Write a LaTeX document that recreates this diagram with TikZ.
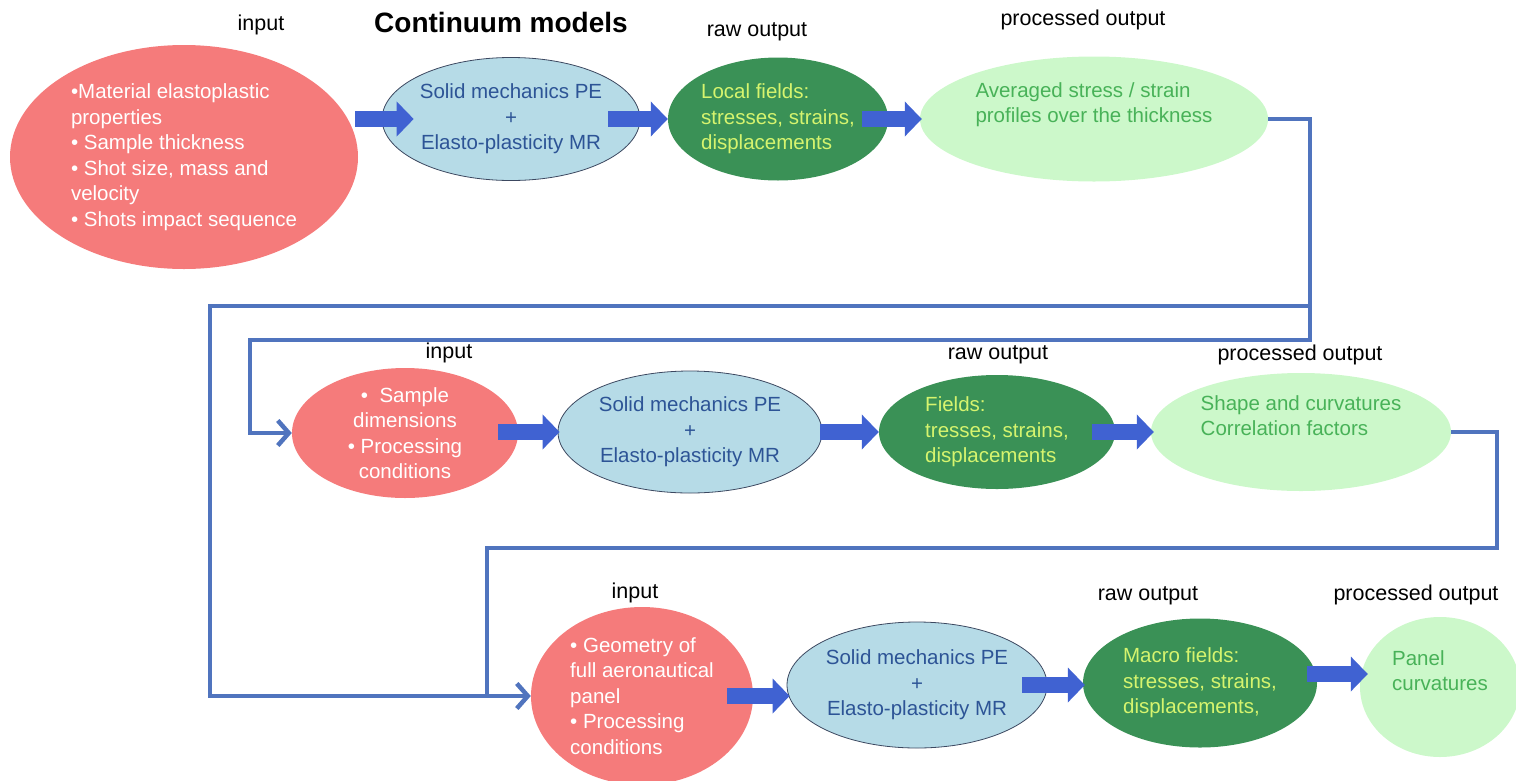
\documentclass[tikz,border=0pt]{standalone}
\usepackage{fontspec}
\setmainfont{Liberation Sans}
\usetikzlibrary{arrows.meta,positioning,calc,shapes.geometric}
\definecolor{inred}{RGB}{245,123,123}
\definecolor{peblue}{RGB}{182,219,231}
\definecolor{peline}{RGB}{60,72,96}
\definecolor{petext}{RGB}{45,84,150}
\definecolor{rawgreen}{RGB}{58,145,86}
\definecolor{rawtext}{RGB}{214,244,110}
\definecolor{progreen}{RGB}{204,248,202}
\definecolor{protext}{RGB}{72,178,88}
\definecolor{arrblue}{RGB}{64,98,210}
\definecolor{linkblue}{RGB}{80,116,190}
\newcommand{\bodyfont}{\fontsize{20.5}{25.5}\selectfont}
\tikzset{
  inbox/.style={ellipse, fill=inred, text=white, inner sep=0pt, font=\bodyfont},
  pebox/.style={ellipse, draw=peline, thick, fill=peblue, text=petext,
                align=center, inner sep=0pt, font=\bodyfont},
  rawbox/.style={ellipse, fill=rawgreen, text=rawtext, align=left,
                 inner sep=0pt, font=\bodyfont},
  probox/.style={ellipse, fill=progreen, text=protext, align=left,
                 inner sep=0pt, font=\bodyfont},
  ttl/.style={font=\fontsize{21.5}{24}\selectfont},
  head/.style={font=\bfseries\fontsize{28}{30}\selectfont},
  blockarr/.style={-{Triangle[length=17pt,width=34pt]}, arrblue, line width=16pt},
  link/.style={linkblue, line width=4.5pt},
  linkarr/.style={link, -{Straight Barb[length=11pt,width=25pt]}},
}

\begin{document}
\begin{tikzpicture}[x=1pt, y=-1pt]
  \useasboundingbox (0,0) rectangle (1516,780);

  % row 1
  \node[ttl] (lin1) at (261,25) {input};
  \node[head] (title) at (501,22) {Continuum models};
  \node[ttl] (lraw1) at (757,32) {raw output};
  \node[ttl] (lpro1) at (1083,20) {processed output};
  \node[inbox, align=left, minimum width=348pt, minimum height=224pt] (in1) at (184,157)
    {•Material elastoplastic\\properties\\• Sample thickness\\• Shot size, mass and\\velocity\\• Shots impact sequence};
  \node[pebox, minimum width=257pt, minimum height=123pt] (pm1) at (511,119)
    {Solid mechanics PE\\+\\Elasto-plasticity MR};
  \node[rawbox, minimum width=220pt, minimum height=123pt] (dg1) at (778,119)
    {Local fields:\\stresses, strains,\\displacements};
  \node[probox, minimum width=348pt, minimum height=125pt] (lg1) at (1094,119)
    {Averaged stress / strain\\profiles over the thickness\\\strut};
  \draw[blockarr] ($(in1.east|-pm1.center)+(-3,0)$) -- ($(pm1.west)+(32,0)$);
  \draw[blockarr] ($(pm1.east)+(-32,0)$) -- (dg1.west);
  \draw[blockarr] ($(dg1.east)+(-26,0)$) -- ($(lg1.west)+(2,0)$);

  % row 2
  \node[ttl] (lin2) at (449,353) {input};
  \node[ttl] (lraw2) at (998,355) {raw output};
  \node[ttl] (lpro2) at (1300,355) {processed output};
  \node[inbox, align=center, minimum width=226pt, minimum height=130pt] (in2) at (405,433)
    {•\ \ Sample\\dimensions\\• Processing\\conditions};
  \node[pebox, minimum width=264pt, minimum height=122pt] (pm2) at (690,432)
    {Solid mechanics PE\\+\\Elasto-plasticity MR};
  \node[rawbox, minimum width=236pt, minimum height=114pt] (dg2) at (997,432)
    {Fields:\\tresses, strains,\\displacements};
  \node[probox, minimum width=300pt, minimum height=118pt] (lg2) at (1301,432)
    {Shape and curvatures\\Correlation factors\\\strut};
  \draw[blockarr] ($(in2.east|-pm2.center)+(-20,0)$) -- ($(pm2.west)+(2,0)$);
  \draw[blockarr] ($(pm2.east)+(-2,0)$) -- (dg2.west);
  \draw[blockarr] ($(dg2.east)+(-23,0)$) -- ($(lg2.west)+(3,0)$);

  % row 3
  \node[ttl] (lin3) at (635,593) {input};
  \node[ttl] (lraw3) at (1148,596) {raw output};
  \node[ttl] (lpro3) at (1416,595) {processed output};
  \node[inbox, align=left, minimum width=222pt, minimum height=178pt] (in3) at (642,696)
    {• Geometry of\\full aeronautical\\panel\\• Processing\\conditions};
  \node[pebox, minimum width=260pt, minimum height=126pt] (pm3) at (917,685)
    {Solid mechanics PE\\+\\Elasto-plasticity MR};
  \node[rawbox, minimum width=234pt, minimum height=129pt] (dg3) at (1200,683)
    {Macro fields:\\stresses, strains,\\displacements,};
  \node[probox, minimum width=160pt, minimum height=140pt] (lg3) at (1440,687)
    {Panel\\curvatures\\\strut};
  \draw[blockarr] ($(in3.east)+(-26,0)$) -- ($(pm3.west|-in3.east)+(3,0)$);
  \draw[blockarr] ($(pm3.east)+(-25,0)$) -- ($(dg3.west|-pm3.east)+(2,0)$);
  \draw[blockarr] ($(dg3.east)+(-10,-9)$) -- ($(lg3.west|-dg3.east)+(8,-9)$);

  % feedback lines
  \coordinate (j1) at (1310,306);
  \coordinate (j2) at (1310,340);
  \coordinate (k1) at (250,340);
  \coordinate (k2) at (210,306);
  \coordinate (j3) at (1497,548);
  \coordinate (k3) at (487,548);
  \draw[linkarr] (lg1.east) -| (j2) -- (k1) |- (in2.west);
  \draw[linkarr] (j1) -- (k2) |- (in3.west);
  \draw[link] (lg2.east) -| (j3) -- (k3) -- (k3|-in3.west);
\end{tikzpicture}
\end{document}
